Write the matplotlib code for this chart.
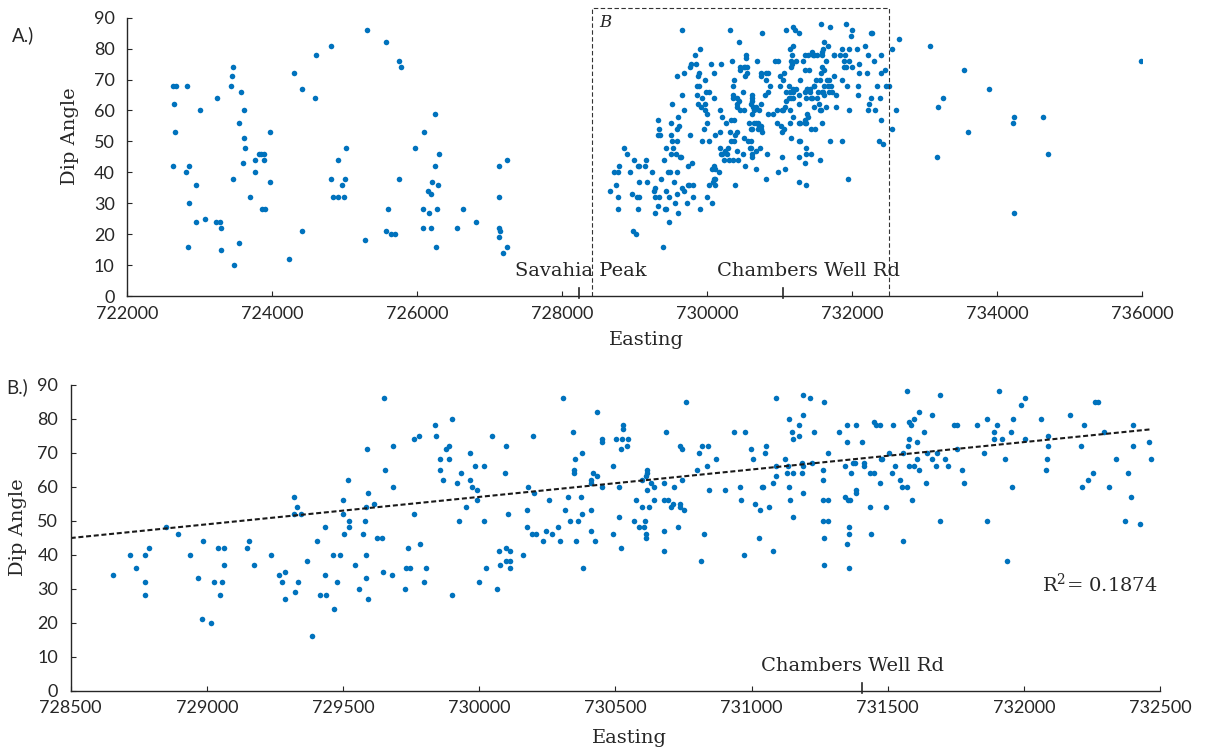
import numpy as np
import matplotlib
matplotlib.use("Agg")
import matplotlib.pyplot as plt

# ---- dip measurements west of the detailed window (Easting, Dip Angle) ----
easting_west = [
    722635, 722667, 722824, 722649, 722658, 722635, 722998, 723237, 722856, 722805,
    722943, 722847, 722953, 723067, 722842, 723228, 723274, 723297, 723297, 723463,
    723449, 723435, 723568, 723610, 723536, 723610, 723624, 723596, 723463, 723467,
    723536, 723692, 723761, 723761, 723816, 723849, 723886, 723881, 723858, 723904,
    723973, 723973, 724235, 724295, 724414, 724414, 724589, 724603, 724805, 724805,
    724833, 724911, 724989, 724957, 724902, 725003, 725021, 725311, 725275,
    725568, 725748, 725771, 725743, 725591, 725568, 725633, 725688, 726244, 726097,
    725973, 726295, 726249, 726203, 726290, 726143, 726189, 726083, 726157, 726276,
    726083, 726189, 726253, 726548, 726630, 726814, 727132, 727233, 727122, 727132,
    727141, 727127, 727233, 727187,
]
dip_west = [
    68, 68, 68, 62, 53, 42, 60, 64, 42, 40,
    36, 30, 24, 25, 16, 24, 24, 22, 15, 74,
    71, 68, 66, 60, 56, 51, 48, 43, 38, 10,
    17, 32, 44, 40, 46, 46, 46, 44, 28, 28,
    53, 37, 12, 72, 67, 21, 64, 78, 81, 38,
    32, 32, 32, 36, 44, 38, 48, 86, 18,
    82, 76, 74, 38, 28, 21, 20, 20, 59, 53,
    48, 46, 42, 37, 36, 34, 33, 28, 27, 28,
    22, 22, 16, 22, 28, 24, 42, 44, 32, 22,
    21, 19, 16, 14,
]

# ---- dip measurements inside the detailed window (panel B) ----
easting_window = [
    728654, 728716, 728741, 728773, 728786, 728772, 728772, 728850, 728893, 728938,
    728986, 728967, 728982, 729014, 729025, 729042, 729063, 729063, 729056, 729048,
    729146, 729156, 729172, 729237, 729264, 729275, 729286, 729334, 729286, 729322,
    729320, 729331, 729320, 729346, 729369, 729403, 729387, 729414, 729436, 729432,
    729432, 729468, 729464, 729487, 729478, 729500, 729517, 729498, 729520, 729521,
    729504, 729545, 729560,
    729652, 729588, 729685, 729653, 729685, 729591, 729583, 729614, 729580, 729572,
    729624, 729642, 729586, 729584, 729593, 729648, 729680, 729762, 729779, 729762,
    729739, 729784, 729731, 729747, 729726, 729805, 729799, 729838, 729841, 729900,
    729878, 729889, 729856, 729889, 729856, 729868, 729920, 729934, 729966, 729983,
    730019, 729966, 729972, 729992, 729991, 729952, 729925, 730018, 729899, 729999,
    730026, 730047, 730097, 730094, 730107, 730072, 730097, 730112, 730075, 730097,
    730114, 730114, 730065, 730160, 730196, 730178, 730201, 730176, 730176, 730194,
    730207, 730233, 730245, 730266, 730255, 730289, 730298, 730308, 730343, 730351,
    730349, 730349, 730376, 730327, 730316, 730332, 730363, 730379, 730373, 730356,
    730382, 730433, 730451, 730451, 730412, 730412, 730416, 730433, 730451, 730412,
    730412, 730424, 730490, 730504, 730524, 730547, 730528, 730528, 730521, 730543,
    730512, 730512, 730490, 730521, 730577, 730567, 730588,
    730597, 730605, 730609, 730614, 730614, 730597, 730615, 730617, 730614, 730615,
    730632, 730643, 730642, 730622, 730677, 730677, 730694, 730687, 730677, 730679,
    730717, 730710, 730706, 730730, 730737, 730745, 730739, 730746, 730753, 730737,
    730759, 730799, 730807, 730817, 730841, 730835, 730868, 730843, 730825, 730813,
    730903, 730936, 730975, 730958, 730961, 730971, 730998, 731004, 731013, 731032,
    731029, 731037, 731043, 731049, 731054, 731063, 731079, 731079, 731089, 731090,
    731089, 731123, 731130, 731135, 731153, 731136, 731141, 731152, 731136, 731149,
    731151, 731176, 731173, 731188, 731188, 731213, 731187, 731189, 731184, 731188,
    731222, 731231, 731266, 731261, 731264, 731262, 731281, 731264, 731282, 731267,
    731265, 731282, 731321, 731351, 731349, 731385, 731407, 731344, 731365, 731374,
    731381, 731412, 731412, 731342, 731354, 731362, 731382, 731385, 731358, 731358,
    731349, 731358, 731434, 731451, 731434, 731437, 731450, 731456, 731471, 731474,
    731479, 731471, 731493, 731504, 731519, 731517, 731528, 731546, 731554, 731572,
    731589, 731557, 731556, 731570, 731577, 731584, 731595, 731578, 731576, 731579,
    731597, 731606, 731608, 731615, 731616,
    731632, 731641, 731646, 731663, 731662, 731677, 731680, 731692, 731693, 731712,
    731720, 731744, 731753, 731753, 731772, 731781, 731827, 731855, 731865, 731864,
    731890, 731892, 731900, 731909, 731919, 731930, 731937, 731952, 731960, 731955,
    731988, 732003, 732003, 732062, 732090, 732089, 732084, 732080, 732171, 732221,
    732210, 732214, 732237, 732253, 732261, 732272, 732294, 732311, 732338, 732373,
    732384, 732392, 732400, 732402, 732428, 732458, 732467,
]
dip_window = [
    34, 40, 36, 40, 42, 32, 28, 48, 46, 40,
    44, 33, 21, 20, 32, 42, 42, 37, 32, 28,
    42, 44, 37, 40, 34, 32, 35, 32, 27, 29,
    57, 54, 52, 52, 38, 44, 16, 28, 28, 48,
    34, 24, 40, 40, 32, 56, 62, 52, 50, 48,
    46, 37, 30,
    86, 71, 72, 65, 60, 58, 54, 55, 50, 46,
    45, 45, 40, 33, 27, 35, 34, 74, 75, 52,
    42, 43, 36, 36, 30, 36, 32, 78, 75, 80,
    71, 72, 68, 68, 65, 62, 61, 64, 70, 66,
    66, 62, 60, 59, 56, 54, 50, 50, 28, 32,
    36, 75, 72, 64, 52, 41, 42, 41, 37, 38,
    38, 36, 30, 40, 75, 60, 58, 53, 48, 46,
    46, 44, 47, 46, 56, 48, 44, 86, 76, 68,
    65, 64, 70, 57, 53, 50, 50, 52, 57, 44,
    36, 82, 74, 73, 62, 61, 64, 63, 60, 53,
    47, 44, 66, 74, 74, 74, 78, 77, 71, 72,
    60, 51, 46, 42, 56, 50, 48,
    54, 48, 50, 46, 45, 62, 65, 64, 63, 59,
    61, 60, 56, 54, 61, 56, 56, 76, 47, 41,
    60, 55, 54, 48, 55, 62, 72, 71, 53, 54,
    85, 65, 70, 72, 72, 66, 68, 59, 46, 38,
    59, 76, 76, 60, 56, 40, 71, 68, 55, 53,
    45, 60, 60, 70, 72, 54, 61, 41, 63, 66,
    86, 68, 64, 66, 64, 60, 56, 51, 80, 76,
    74, 78, 75, 81, 87, 86, 67, 66, 64, 58,
    67, 76, 85, 65, 62, 56, 56, 50, 50, 45,
    37, 70, 76, 78, 73, 78, 73, 66, 64, 67,
    67, 67, 66, 57, 56, 56, 59, 58, 48, 46,
    43, 36, 64, 64, 54, 46, 79, 78, 78, 68,
    68, 61, 54, 70, 78, 64, 66, 62, 60, 60,
    56, 44, 70, 88, 79, 78, 80, 74, 72, 66,
    66, 73, 68, 82, 65,
    76, 61, 70, 81, 68, 66, 70, 87, 50, 68,
    66, 78, 78, 71, 65, 61, 78, 70, 80, 50,
    76, 74, 78, 88, 74, 68, 38, 76, 80, 60,
    84, 86, 74, 80, 75, 72, 68, 65, 81, 78,
    72, 60, 62, 64, 85, 85, 76, 60, 68, 50,
    64, 57, 78, 72, 49, 73, 68,
]

# ---- dip measurements east of the detailed window ----
easting_east = [
    732505, 732640, 732548, 732598, 732548, 733072, 733536, 733246, 733177, 733600,
    733173, 733886, 734235, 734217, 734230, 734635, 734699, 735978,
]
dip_east = [
    68, 83, 80, 60, 54, 81, 73, 64, 61, 53,
    45, 67, 58, 56, 27, 58, 46, 76,
]

# Linear trend through the detailed window (end points of the fitted line)
trend_easting = [728500, 732470]
trend_dip = [44.9, 76.9]
trend_r2 = 0.1874

# Landmarks along the traverse: tick positions and label centres per panel
landmark_names = ["Savahia Peak", "Chambers Well Rd"]
landmark_tick_a = [728226, 731048]
landmark_text_a = [728250, 731400]
landmark_tick_b = [None, 731404]
landmark_text_b = [None, 731370]

# Extent of the detailed window (panel B) drawn on panel A
window_x = [728414, 732505]
window_top = 93

x_ticks_a = list(range(722000, 736001, 2000))
x_ticks_b = list(range(728500, 732501, 500))
y_ticks = list(range(0, 91, 10))

BLUE = "#0072BD"
INK = "#262626"
SERIF = "DejaVu Serif"
SANS = "Lato"

plt.rcParams["mathtext.fontset"] = "dejavuserif"

east_all = np.array(easting_west + easting_window + easting_east, dtype=float)
dip_all = np.array(dip_west + dip_window + dip_east, dtype=float)
win_e = np.array(easting_window, dtype=float)
win_d = np.array(dip_window, dtype=float)

fig = plt.figure(figsize=(12.05, 7.5), dpi=100)
ax_a = fig.add_axes([0.1056, 0.6053, 0.8423, 0.3711])
ax_b = fig.add_axes([0.0587, 0.0791, 0.9040, 0.4080])


def style_axes(ax, xticks, xlim):
    for side in ("top", "right"):
        ax.spines[side].set_visible(False)
    for side in ("left", "bottom"):
        ax.spines[side].set_color(INK)
        ax.spines[side].set_linewidth(1.0)
    ax.set_xlim(*xlim)
    ax.set_ylim(0, 90)
    ax.set_xticks(xticks)
    ax.set_yticks(y_ticks)
    ax.tick_params(direction="in", length=3.4, width=0.8, color=INK,
                   labelcolor=INK, labelsize=13)
    ax.tick_params(axis="y", pad=9)
    ax.tick_params(axis="x", pad=7)
    for lab in ax.get_xticklabels() + ax.get_yticklabels():
        lab.set_fontfamily(SANS)
    ax.set_ylabel("Dip Angle", family=SERIF, fontsize=14, color=INK)
    ax.set_xlabel("Easting", family=SERIF, fontsize=14, color=INK)


# ---------------- Panel A: full traverse ----------------
style_axes(ax_a, x_ticks_a, (722000, 736000))
ax_a.plot(east_all, dip_all, "o", ms=4.0, color=BLUE, mec="none")
ax_a.plot([window_x[0], window_x[0], window_x[1], window_x[1]],
          [0, window_top, window_top, 0], ls=(0, (4, 2.2)), lw=0.8,
          color="#333333", clip_on=False)
ax_a.text(window_x[0] + 100, 88.5, "B", family=SERIF, style="italic",
          fontsize=12, color=INK, ha="left", va="center")
for name, xt, xl in zip(landmark_names, landmark_tick_a, landmark_text_a):
    ax_a.plot([xt, xt], [-0.6, 2.6], color=INK, lw=1.2, clip_on=False)
    ax_a.text(xl, 8.1, name, family=SERIF, fontsize=14, color=INK,
              ha="center", va="center")
ax_a.yaxis.set_label_coords(-0.0476, 0.575)
ax_a.xaxis.set_label_coords(0.512, -0.124)
fig.text(0.010, 0.953, "A.)", family=SANS, fontsize=13.5, color=INK,
         ha="left", va="center")

# ---------------- Panel B: detailed window with trend ----------------
style_axes(ax_b, x_ticks_b, (728500, 732500))
ax_b.plot(win_e, win_d, "o", ms=4.0, color=BLUE, mec="none")
ax_b.plot(trend_easting, trend_dip, color="#1a1a1a", lw=1.5,
          ls=(0, (2.4, 1.3)))
ax_b.text(732065, 31.2, "R$^2$= " + f"{trend_r2:.4f}", family=SERIF,
          fontsize=14, color=INK, ha="left", va="center")
for name, xt, xl in zip(landmark_names, landmark_tick_b, landmark_text_b):
    if xt is None:
        continue
    ax_b.plot([xt, xt], [-0.6, 2.4], color=INK, lw=1.2, clip_on=False)
    ax_b.text(xl, 7.2, name, family=SERIF, fontsize=14, color=INK,
              ha="center", va="center")
ax_b.yaxis.set_label_coords(-0.040, 0.533)
ax_b.xaxis.set_label_coords(0.513, -0.125)
fig.text(0.005, 0.484, "B.)", family=SANS, fontsize=13.5, color=INK,
         ha="left", va="center")

fig.savefig("out.png", dpi=100)
